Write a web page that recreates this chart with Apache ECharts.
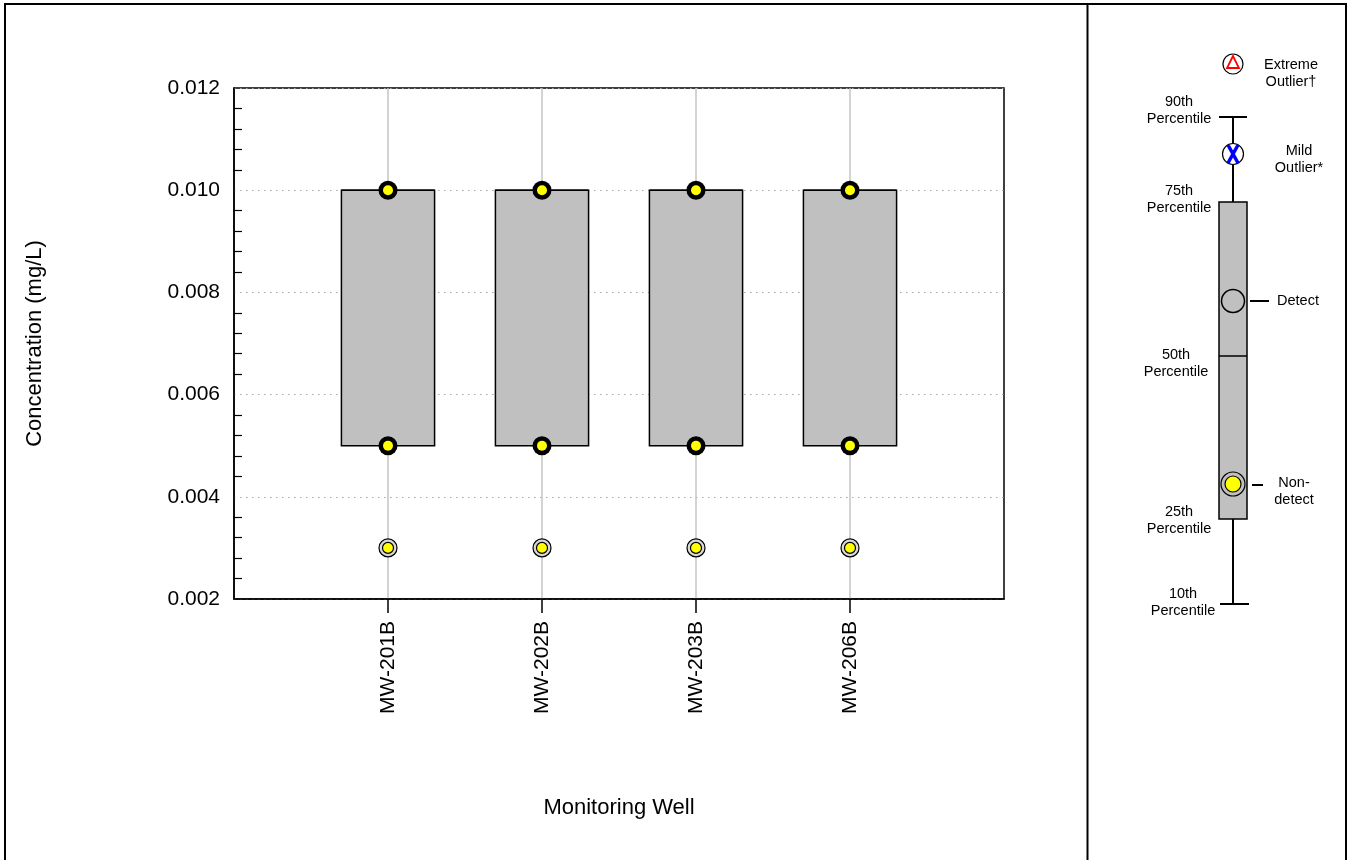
<!DOCTYPE html>
<html>
<head>
<meta charset="utf-8">
<script src="https://cdn.jsdelivr.net/npm/echarts@6/dist/echarts.min.js"></script>
<style>
  html, body { margin: 0; padding: 0; background: #fff; }
  #chart { width: 1348px; height: 860px; }
</style>
</head>
<body>
<div id="chart"></div>
<script>
// ---- data ----
const wells = ['MW-201B', 'MW-202B', 'MW-203B', 'MW-206B'];
const q1Values = [0.005, 0.005, 0.005, 0.005];       // 25th percentile
const medianValues = [0.010, 0.010, 0.010, 0.010];   // 50th percentile
const q3Values = [0.010, 0.010, 0.010, 0.010];       // 75th percentile
const ndRepeated = [[0.010, 0.005], [0.010, 0.005], [0.010, 0.005], [0.010, 0.005]]; // stacked non-detects
const ndSingle = [0.003, 0.003, 0.003, 0.003];       // single non-detects
const yTicks = [0.002, 0.004, 0.006, 0.008, 0.010, 0.012];

// ---- build ----
const FONT = '"Liberation Sans", Arial, sans-serif';
const categories = [''].concat(wells, ['']);
const boxData = wells.map((w, i) => [i + 1, q1Values[i], medianValues[i], q3Values[i]]);
const repData = [];
ndRepeated.forEach((arr, i) => arr.forEach(v => repData.push([i + 1, v])));
const singleData = ndSingle.map((v, i) => [i + 1, v]);

const chart = echarts.init(document.getElementById('chart'));

const txt = (x, y, s, align) => ({
  type: 'text', x: x, y: y,
  style: { text: s, fill: '#000', font: '14.5px ' + FONT, align: align || 'center', verticalAlign: 'middle', lineHeight: 17 }
});

const LX = 1233;
const legend = [
  // frame
  { type: 'rect', shape: { x: 5, y: 4, width: 1341, height: 880 }, style: { fill: 'none', stroke: '#000', lineWidth: 2 }, silent: true },
  { type: 'line', shape: { x1: 1087.5, y1: 4, x2: 1087.5, y2: 860 }, style: { stroke: '#000', lineWidth: 2 } },
  // whisker
  { type: 'line', shape: { x1: LX, y1: 117, x2: LX, y2: 604 }, style: { stroke: '#000', lineWidth: 2 } },
  { type: 'line', shape: { x1: 1219, y1: 117, x2: 1247, y2: 117 }, style: { stroke: '#000', lineWidth: 2 } },
  { type: 'line', shape: { x1: 1220, y1: 604, x2: 1249, y2: 604 }, style: { stroke: '#000', lineWidth: 2 } },
  // box
  { type: 'rect', shape: { x: 1219, y: 202, width: 28, height: 317 }, style: { fill: '#c0c0c0', stroke: '#000', lineWidth: 1.5 } },
  { type: 'line', shape: { x1: 1219, y1: 356, x2: 1247, y2: 356 }, style: { stroke: '#000', lineWidth: 1.5 } },
  // extreme outlier
  { type: 'circle', shape: { cx: LX, cy: 64, r: 10 }, style: { fill: '#fff', stroke: '#000', lineWidth: 1.2 } },
  { type: 'polygon', shape: { points: [[LX, 56], [LX - 6, 68], [LX + 6, 68]] }, style: { fill: 'none', stroke: '#ff0000', lineWidth: 1.8 } },
  // mild outlier
  { type: 'circle', shape: { cx: LX, cy: 154, r: 10.5 }, style: { fill: '#fff', stroke: '#000', lineWidth: 1.2 } },
  { type: 'line', shape: { x1: LX - 5, y1: 145, x2: LX + 5, y2: 163 }, style: { stroke: '#0000ff', lineWidth: 3.5 } },
  { type: 'line', shape: { x1: LX + 5, y1: 145, x2: LX - 5, y2: 163 }, style: { stroke: '#0000ff', lineWidth: 3.5 } },
  // detect
  { type: 'circle', shape: { cx: LX, cy: 301, r: 11.5 }, style: { fill: 'none', stroke: '#000', lineWidth: 1.5 } },
  { type: 'line', shape: { x1: 1250, y1: 301, x2: 1269, y2: 301 }, style: { stroke: '#000', lineWidth: 2 } },
  // non-detect
  { type: 'circle', shape: { cx: LX, cy: 484, r: 12 }, style: { fill: '#c0c0c0', stroke: '#000', lineWidth: 1.2 } },
  { type: 'circle', shape: { cx: LX, cy: 484, r: 8 }, style: { fill: '#ffff00', stroke: '#000', lineWidth: 1.2 } },
  { type: 'line', shape: { x1: 1252, y1: 485, x2: 1263, y2: 485 }, style: { stroke: '#000', lineWidth: 2 } },
  // labels
  txt(1291, 73, 'Extreme\nOutlier\u2020'),
  txt(1299, 159, 'Mild\nOutlier*'),
  txt(1277, 301, 'Detect', 'left'),
  txt(1294, 491, 'Non-\ndetect'),
  txt(1179, 110, '90th\nPercentile'),
  txt(1179, 199, '75th\nPercentile'),
  txt(1176, 363, '50th\nPercentile'),
  txt(1179, 520, '25th\nPercentile'),
  txt(1183, 602, '10th\nPercentile')
];

const option = {
  backgroundColor: '#fff',
  animation: false,
  textStyle: { fontFamily: FONT },
  grid: { left: 234, right: 344, top: 88, bottom: 261, show: true, borderColor: '#000', borderWidth: 1.5, backgroundColor: 'transparent' },
  xAxis: {
    type: 'category',
    data: categories,
    boundaryGap: false,
    name: 'Monitoring Well',
    nameLocation: 'middle',
    nameGap: 198,
    nameTextStyle: { fontSize: 22, color: '#000', fontFamily: FONT },
    axisLine: { lineStyle: { color: '#000', width: 1.5 } },
    axisTick: { show: true, length: 14, lineStyle: { color: '#000', width: 1.5 }, interval: (i, v) => v !== '' },
    axisLabel: { rotate: 90, margin: 22, fontSize: 21, color: '#000', fontFamily: FONT, interval: 0 },
    splitLine: { show: true, interval: (i, v) => v !== '', lineStyle: { color: '#c4c4c4', width: 1.5 } }
  },
  yAxis: {
    type: 'value',
    min: yTicks[0],
    max: yTicks[yTicks.length - 1],
    interval: 0.002,
    name: 'Concentration (mg/L)',
    nameLocation: 'middle',
    nameGap: 188,
    nameTextStyle: { fontSize: 22, color: '#000', fontFamily: FONT },
    axisLine: { show: true, lineStyle: { color: '#000', width: 1.5 } },
    axisTick: { show: false, inside: true },
    minorTick: { show: true, splitNumber: 5, length: 8, lineStyle: { color: '#000', width: 1.2 } },
    axisLabel: { margin: 14, fontSize: 21, color: '#000', fontFamily: FONT, formatter: v => v.toFixed(3) },
    splitLine: { show: true, lineStyle: { color: '#a8a8a8', width: 1, type: [1.5, 4.5] } }
  },
  graphic: legend,
  series: [
    {
      type: 'custom',
      data: boxData,
      encode: { x: 0, y: [1, 2, 3] },
      z: 2,
      renderItem: (params, api) => {
        const x = api.value(0);
        const lo = api.coord([x, api.value(1)]);
        const med = api.coord([x, api.value(2)]);
        const hi = api.coord([x, api.value(3)]);
        const w = api.size([1, 0])[0] * 0.605;
        return {
          type: 'group',
          children: [
            { type: 'rect', shape: { x: lo[0] - w / 2, y: hi[1], width: w, height: lo[1] - hi[1] }, style: { fill: '#c0c0c0', stroke: '#000', lineWidth: 1.5 } },
            { type: 'line', shape: { x1: lo[0] - w / 2, y1: med[1], x2: lo[0] + w / 2, y2: med[1] }, style: { stroke: '#000', lineWidth: 1.5 } }
          ]
        };
      }
    },
    {
      type: 'scatter', data: repData, z: 3, symbol: 'circle', symbolSize: 19,
      itemStyle: { color: '#000', opacity: 1 }
    },
    {
      type: 'scatter', data: repData, z: 4, symbol: 'circle', symbolSize: 10,
      itemStyle: { color: '#ffff00', opacity: 1 }
    },
    {
      type: 'scatter', data: singleData, z: 3, symbol: 'circle', symbolSize: 18,
      itemStyle: { color: '#d8d8d8', borderColor: '#000', borderWidth: 1.2, opacity: 1 }
    },
    {
      type: 'scatter', data: singleData, z: 4, symbol: 'circle', symbolSize: 11,
      itemStyle: { color: '#ffff00', borderColor: '#000', borderWidth: 1.2, opacity: 1 }
    }
  ]
};
chart.setOption(option);
</script>
</body>
</html>
